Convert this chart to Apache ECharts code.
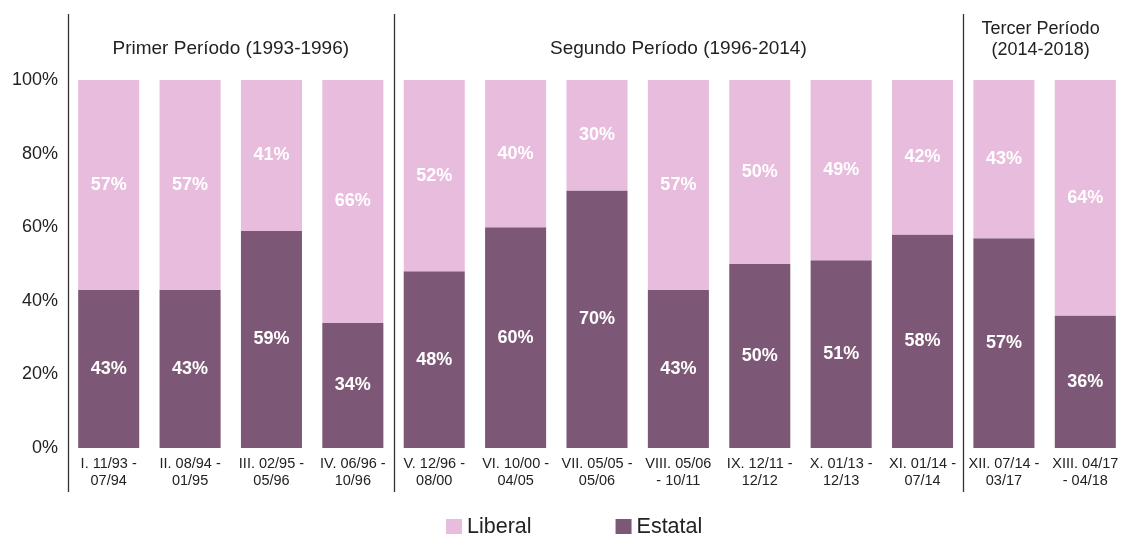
<!DOCTYPE html>
<html>
<head>
<meta charset="utf-8">
<script src="https://cdn.jsdelivr.net/npm/echarts@6/dist/echarts.min.js"></script>
<style>
  html, body { margin: 0; padding: 0; background: #fff; }
  #chart { width: 1126px; height: 534px; }
</style>
</head>
<body>
<div id="chart"></div>
<script>
// Categorías (etapas) y participación por tipo de régimen
const categories = [
  'I. 11/93 -\n07/94', 'II. 08/94 -\n01/95', 'III. 02/95 -\n05/96', 'IV. 06/96 -\n10/96',
  'V. 12/96 -\n08/00', 'VI. 10/00 -\n04/05', 'VII. 05/05 -\n05/06', 'VIII. 05/06\n- 10/11',
  'IX. 12/11 -\n12/12', 'X. 01/13 -\n12/13', 'XI. 01/14 -\n07/14', 'XII. 07/14 -\n03/17',
  'XIII. 04/17\n- 04/18'
]
const estatalValues = [43, 43, 59, 34, 48, 60, 70, 43, 50, 51, 58, 57, 36]
const liberalValues = [57, 57, 41, 66, 52, 40, 30, 57, 50, 49, 42, 43, 64]

// Periodos: índice de la primera y última categoría de cada uno
const periodNames = ['Primer Período (1993-1996)', 'Segundo Período (1996-2014)', 'Tercer Período\n(2014-2018)']
const periodStart = [0, 4, 11]
const periodEnd = [3, 10, 12]

const liberalColor = '#e8bcdc'
const estatalColor = '#7c5876'
const fontFamily = '"Liberation Sans", Arial, sans-serif'

const chart = echarts.init(document.getElementById('chart'))

const barLabel = {
  show: true,
  position: 'inside',
  color: '#fff',
  fontWeight: 'bold',
  fontSize: 18,
  fontFamily,
  formatter: '{c}%'
}

chart.setOption({
  animation: false,
  textStyle: { fontFamily },
  legend: {
    data: ['Liberal', 'Estatal'],
    left: 441,
    top: 511,
    itemWidth: 16,
    itemHeight: 16,
    itemGap: 84,
    icon: 'rect',
    textStyle: { fontSize: 21.5, color: '#222', fontFamily }
  },
  grid: {
    left: 68,
    top: 80,
    width: 1063,
    height: 368
  },
  xAxis: {
    type: 'category',
    data: categories,
    axisLine: { show: false },
    axisTick: { show: false },
    axisLabel: {
      interval: 0,
      color: '#222',
      fontSize: 14.5,
      lineHeight: 17,
      margin: 7,
      fontFamily
    }
  },
  yAxis: {
    type: 'value',
    min: 0,
    max: 100,
    interval: 20,
    splitLine: { show: false },
    axisLine: { show: false },
    axisTick: { show: false },
    axisLabel: {
      formatter: '{value}%',
      color: '#222',
      fontSize: 18,
      margin: 10,
      fontFamily
    }
  },
  series: [
    {
      name: 'Estatal',
      type: 'bar',
      stack: 'total',
      barCategoryGap: '25%',
      itemStyle: { color: estatalColor },
      label: barLabel,
      data: estatalValues
    },
    {
      name: 'Liberal',
      type: 'bar',
      stack: 'total',
      barCategoryGap: '25%',
      itemStyle: { color: liberalColor },
      label: barLabel,
      data: liberalValues
    }
  ]
})

// separadores verticales y títulos de periodo, ubicados con la escala del eje
function drawPeriods() {
  const c0 = chart.convertToPixel({ xAxisIndex: 0 }, 0)
  const c1 = chart.convertToPixel({ xAxisIndex: 0 }, 1)
  const half = (c1 - c0) / 2
  const elements = []
  periodStart.forEach((start, i) => {
    const x = Math.round(chart.convertToPixel({ xAxisIndex: 0 }, start) - half) + 0.5
    elements.push({
      type: 'line',
      shape: { x1: x, y1: 14, x2: x, y2: 492 },
      style: { stroke: '#333', lineWidth: 1.3 }
    })
    const left = chart.convertToPixel({ xAxisIndex: 0 }, start) - half
    const right = chart.convertToPixel({ xAxisIndex: 0 }, periodEnd[i]) + half
    const twoLines = periodNames[i].indexOf('\n') >= 0
    elements.push({
      type: 'text',
      x: (left + Math.min(right, 1126)) / 2 + (twoLines ? -4 : 0),
      y: twoLines ? 40 : 49,
      style: {
        text: periodNames[i],
        font: (twoLines ? '18px ' : '19px ') + fontFamily,
        fill: '#222',
        align: 'center',
        verticalAlign: 'middle',
        lineHeight: 21
      }
    })
  })
  chart.setOption({ graphic: elements })
}
drawPeriods()
</script>
</body>
</html>
